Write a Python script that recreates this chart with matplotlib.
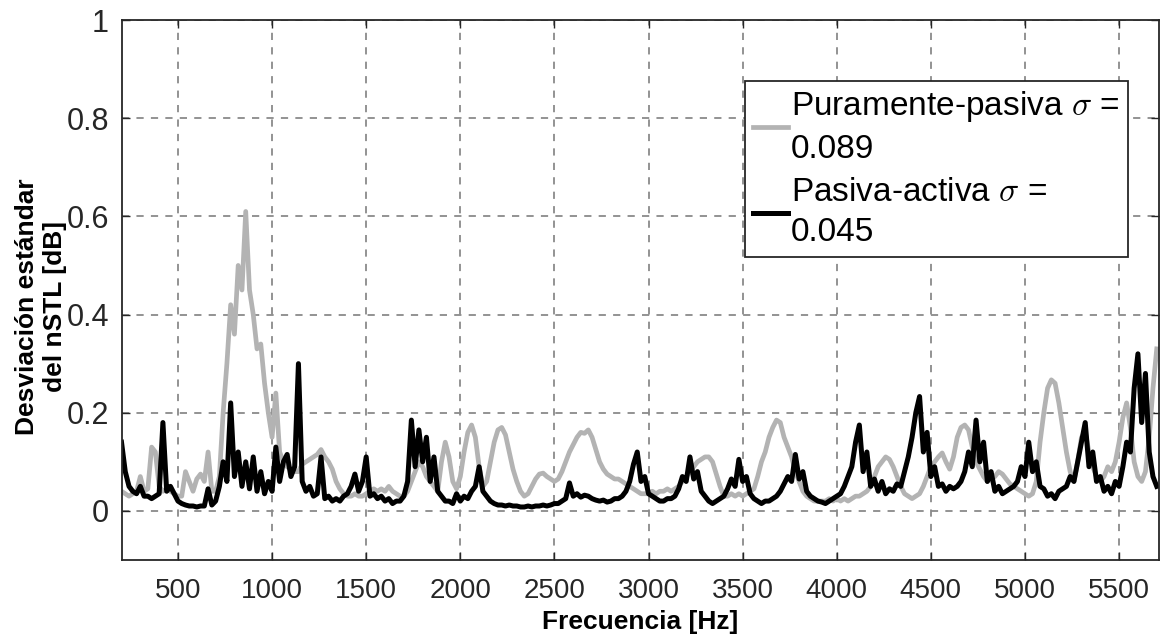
import numpy as np
import matplotlib
matplotlib.use("Agg")
import matplotlib.pyplot as plt

# frequency grid (Hz), one reading every 20 Hz
freq = np.arange(200, 5701, 20)

# desviacion estandar, pasiva-activa (black)
pasiva_activa = [
    0.14, 0.08, 0.05, 0.04, 0.035, 0.05, 0.03, 0.03, 0.025, 0.03,      # 200
    0.035, 0.18, 0.04, 0.05, 0.035, 0.02, 0.015, 0.012, 0.01, 0.01,    # 400
    0.008, 0.01, 0.01, 0.045, 0.012, 0.02, 0.05, 0.1, 0.06, 0.22,      # 600
    0.07, 0.12, 0.05, 0.1, 0.045, 0.11, 0.04, 0.08, 0.035, 0.06,       # 800
    0.04, 0.13, 0.06, 0.1, 0.115, 0.07, 0.09, 0.30, 0.06, 0.04,        # 1000
    0.05, 0.03, 0.035, 0.11, 0.025, 0.03, 0.02, 0.025, 0.02, 0.03,     # 1200
    0.035, 0.05, 0.075, 0.04, 0.06, 0.11, 0.03, 0.035, 0.025, 0.03,    # 1400
    0.02, 0.025, 0.015, 0.02, 0.02, 0.03, 0.06, 0.185, 0.09, 0.165,    # 1600
    0.1, 0.15, 0.06, 0.11, 0.04, 0.03, 0.02, 0.02, 0.015, 0.035,       # 1800
    0.02, 0.03, 0.025, 0.04, 0.05, 0.09, 0.04, 0.03, 0.02, 0.015,      # 2000
    0.012, 0.012, 0.01, 0.012, 0.01, 0.01, 0.008, 0.008, 0.01, 0.008,  # 2200
    0.01, 0.01, 0.012, 0.01, 0.012, 0.015, 0.015, 0.02, 0.025, 0.057,  # 2400
    0.03, 0.035, 0.028, 0.032, 0.03, 0.025, 0.022, 0.02, 0.022, 0.018, # 2600
    0.02, 0.025, 0.025, 0.03, 0.04, 0.06, 0.095, 0.12, 0.06, 0.07,     # 2800
    0.035, 0.03, 0.025, 0.02, 0.02, 0.025, 0.025, 0.03, 0.045, 0.07,   # 3000
    0.06, 0.11, 0.065, 0.08, 0.04, 0.03, 0.02, 0.015, 0.02, 0.025,     # 3200
    0.03, 0.045, 0.065, 0.05, 0.105, 0.06, 0.07, 0.035, 0.025, 0.02,   # 3400
    0.015, 0.02, 0.02, 0.025, 0.03, 0.04, 0.055, 0.07, 0.06, 0.115,    # 3600
    0.065, 0.08, 0.04, 0.03, 0.025, 0.02, 0.018, 0.015, 0.02, 0.025,   # 3800
    0.03, 0.035, 0.05, 0.07, 0.09, 0.14, 0.175, 0.08, 0.12, 0.05,      # 4000
    0.065, 0.04, 0.06, 0.035, 0.045, 0.04, 0.055, 0.05, 0.08, 0.11,    # 4200
    0.15, 0.2, 0.233, 0.12, 0.16, 0.07, 0.09, 0.05, 0.055, 0.04,       # 4400
    0.05, 0.045, 0.05, 0.06, 0.08, 0.12, 0.09, 0.185, 0.1, 0.14,       # 4600
    0.06, 0.08, 0.04, 0.05, 0.035, 0.04, 0.045, 0.05, 0.06, 0.09,      # 4800
    0.07, 0.14, 0.08, 0.1, 0.05, 0.045, 0.03, 0.035, 0.025, 0.04,      # 5000
    0.045, 0.05, 0.07, 0.06, 0.1, 0.14, 0.18, 0.09, 0.12, 0.06,        # 5200
    0.07, 0.04, 0.05, 0.035, 0.06, 0.05, 0.09, 0.14, 0.12, 0.25,       # 5400
    0.32, 0.18, 0.28, 0.12, 0.07, 0.05,                                # 5600
]

# desviacion estandar, puramente-pasiva (gray)
puramente_pasiva = [
    0.04, 0.035, 0.03, 0.035, 0.04, 0.07, 0.04, 0.045, 0.13, 0.12,     # 200
    0.05, 0.04, 0.045, 0.04, 0.035, 0.03, 0.03, 0.08, 0.06, 0.04,      # 400
    0.065, 0.075, 0.06, 0.12, 0.04, 0.04, 0.07, 0.2, 0.3, 0.42,        # 600
    0.36, 0.5, 0.45, 0.61, 0.45, 0.4, 0.33, 0.34, 0.26, 0.2,           # 800
    0.15, 0.24, 0.12, 0.1, 0.09, 0.085, 0.08, 0.08, 0.095, 0.1,        # 1000
    0.105, 0.11, 0.115, 0.125, 0.11, 0.1, 0.085, 0.06, 0.045, 0.035,   # 1200
    0.03, 0.03, 0.035, 0.03, 0.03, 0.035, 0.04, 0.045, 0.04, 0.045,    # 1400
    0.04, 0.05, 0.04, 0.035, 0.03, 0.03, 0.04, 0.06, 0.08, 0.1,        # 1600
    0.09, 0.07, 0.06, 0.05, 0.04, 0.1, 0.14, 0.11, 0.06, 0.045,        # 1800
    0.07, 0.12, 0.16, 0.175, 0.15, 0.09, 0.05, 0.06, 0.1, 0.14,        # 2000
    0.165, 0.17, 0.155, 0.12, 0.085, 0.06, 0.04, 0.03, 0.035, 0.05,    # 2200
    0.065, 0.075, 0.077, 0.07, 0.065, 0.06, 0.065, 0.08, 0.1, 0.12,    # 2400
    0.135, 0.15, 0.16, 0.158, 0.165, 0.15, 0.125, 0.1, 0.085, 0.075,   # 2600
    0.07, 0.065, 0.065, 0.06, 0.055, 0.05, 0.045, 0.04, 0.035, 0.035,  # 2800
    0.035, 0.04, 0.035, 0.04, 0.04, 0.045, 0.04, 0.045, 0.05, 0.06,    # 3000
    0.07, 0.08, 0.09, 0.1, 0.105, 0.11, 0.11, 0.1, 0.075, 0.05,        # 3200
    0.03, 0.03, 0.035, 0.03, 0.035, 0.03, 0.035, 0.04, 0.045, 0.07,    # 3400
    0.1, 0.12, 0.15, 0.17, 0.185, 0.18, 0.15, 0.13, 0.11, 0.08,        # 3600
    0.06, 0.04, 0.03, 0.025, 0.02, 0.02, 0.02, 0.02, 0.025, 0.02,      # 3800
    0.025, 0.02, 0.025, 0.02, 0.025, 0.03, 0.03, 0.035, 0.04, 0.05,    # 4000
    0.07, 0.09, 0.1, 0.11, 0.105, 0.09, 0.07, 0.05, 0.035, 0.03,       # 4200
    0.025, 0.03, 0.035, 0.05, 0.07, 0.09, 0.1, 0.11, 0.118, 0.1,       # 4400
    0.085, 0.11, 0.15, 0.17, 0.175, 0.165, 0.13, 0.1, 0.085, 0.07,     # 4600
    0.06, 0.065, 0.07, 0.08, 0.075, 0.065, 0.055, 0.05, 0.045, 0.04,   # 4800
    0.035, 0.03, 0.035, 0.06, 0.14, 0.2, 0.25, 0.267, 0.26, 0.22,      # 5000
    0.17, 0.12, 0.08, 0.06, 0.1, 0.15, 0.16, 0.12, 0.09, 0.07,         # 5200
    0.06, 0.07, 0.09, 0.08, 0.1, 0.14, 0.19, 0.22, 0.17, 0.1,          # 5400
    0.07, 0.06, 0.08, 0.15, 0.25, 0.33,                                # 5600
]

labels = ["Puramente-pasiva $\\sigma$ =\n0.089", "Pasiva-activa $\\sigma$ =\n0.045"]
xticks = [500, 1000, 1500, 2000, 2500, 3000, 3500, 4000, 4500, 5000, 5500]
yticks = [0, 0.2, 0.4, 0.6, 0.8, 1]

plt.rcParams['font.family'] = ['Liberation Sans', 'DejaVu Sans']
plt.rcParams['mathtext.fontset'] = 'cm'

fig = plt.figure(figsize=(11.61, 6.37), dpi=100)
ax = fig.add_axes([121.5 / 1161, 77 / 637, (1159 - 121.5) / 1161, 540 / 637])

ax.plot(freq, puramente_pasiva, color='#b3b3b3', lw=3.4, label=labels[0])
ax.plot(freq, pasiva_activa, color='black', lw=3.6, label=labels[1])

ax.set_xlim(200, 5712)
ax.set_ylim(-0.1, 1)
ax.set_xticks(xticks)
ax.set_yticks(yticks)
ax.set_yticklabels(['0', '0.2', '0.4', '0.6', '0.8', '1'])
ax.tick_params(direction='in', length=6, width=1, top=True, right=True,
               labelsize=22, colors='#262626', pad=9)
ax.tick_params(axis='x', pad=13, labelsize=20)

ax.grid(True, color='#8a8a8a', linestyle=(0, (4, 4)), lw=1.3)
for s in ax.spines.values():
    s.set_color('#262626')
    s.set_linewidth(1.3)

ax.set_xlabel('Frecuencia [Hz]', fontsize=19, fontweight='bold', labelpad=4)
ax.set_ylabel('Desviación estándar\ndel nSTL [dB]', fontsize=19, fontweight='bold',
              linespacing=1.2)
ax.yaxis.set_label_coords(-0.053, 0.47)

leg = ax.legend(loc='upper right', bbox_to_anchor=(0.970, 0.887), borderaxespad=0,
                fontsize=24, handlelength=1.05, handletextpad=0.1, borderpad=0.25,
                labelspacing=0.35, fancybox=False, framealpha=1, edgecolor='#262626')
leg.get_frame().set_linewidth(1.3)
for t in leg.get_texts():
    t.set_linespacing(1.4)

plt.savefig('out.png', dpi=100)
